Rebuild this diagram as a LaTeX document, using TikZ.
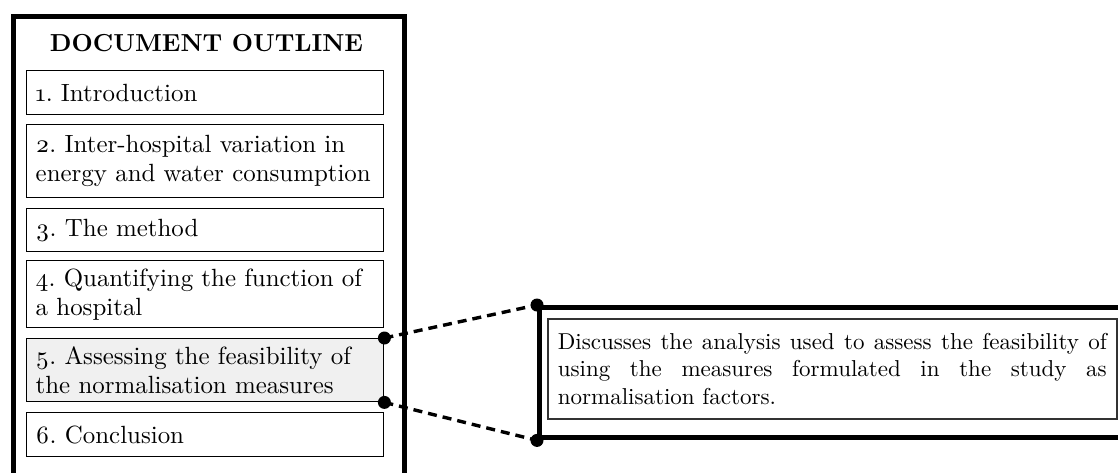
\documentclass[tikz,border=0pt]{standalone}
\usepackage{fontspec}
% keep the 10pt design of Latin Modern at every size
\setmainfont{lmroman10}[Extension=.otf, UprightFont=*-regular, BoldFont=*-bold,
  ItalicFont=*-italic, BoldItalicFont=*-bolditalic]
\frenchspacing
\begin{document}
\begin{tikzpicture}[x=1pt,y=-1pt,
  frame/.style={draw=black, line width=4.6pt, inner sep=0pt},
  bigframe/.style={draw=black, line width=5.4pt, inner sep=0pt},
  secbox/.style={draw=black, line width=1.4pt, anchor=north west,
    text width=339pt, inner xsep=9pt, inner ysep=0pt, align=left,
    font=\fontsize{24.9}{29}\selectfont},
  descbox/.style={draw=black!80, line width=1.6pt, anchor=north west,
    text width=549pt, inner xsep=10pt, inner ysep=0pt, align=justify,
    minimum height=100pt, font=\fontsize{23}{27.5}\selectfont},
  link/.style={line width=3.4pt, dash pattern=on 9pt off 6pt},
  dot/.style={fill=black}
]
\useasboundingbox (0,0) rectangle (1118,472);
\clip (0,0) rectangle (1118,472);

% outline column
\node[frame, anchor=north west, minimum width=391pt, minimum height=490pt] (outline) at (11,14) {};
\node[anchor=base, font=\fontsize{24.6}{29}\selectfont\bfseries] (title) at (206.5,51) {DOCUMENT OUTLINE};

\node[secbox, minimum height=44pt] (s1) at (26,70) {\oldstylenums{1}. Introduction};
\node[secbox, minimum height=73pt] (s2) at (26,124) {\oldstylenums{2}. Inter-hospital variation in\\energy and water consumption};
\node[secbox, minimum height=43pt] (s3) at (26,208) {\oldstylenums{3}. The method};
\node[secbox, minimum height=67pt] (s4) at (26,260) {\oldstylenums{4}. Quantifying the function of\\a hospital};
\node[secbox, minimum height=63pt, fill=black!6] (s5) at (26,338) {\oldstylenums{5}. Assessing the feasibility of\\the normalisation measures};
\node[secbox, minimum height=44pt] (s6) at (26,412) {\oldstylenums{6}. Conclusion};

% detail panel
\node[bigframe, anchor=north west, minimum width=620pt, minimum height=130pt] (detail) at (537,305) {};
\node[descbox] (desc) at (547,318) {Discusses the analysis used to assess the feasibility of\linebreak
using the measures formulated in the study as\linebreak
normalisation factors.};

% connectors
\draw[link] (s5.north east) -- (detail.north west);
\draw[link] (s5.south east) -- (detail.south west);
\fill[dot] (s5.north east) circle (6.5);
\fill[dot] (s5.south east) circle (6.5);
\fill[dot] (detail.north west) circle (6.5);
\fill[dot] (detail.south west) circle (6.5);
\end{tikzpicture}
\end{document}
